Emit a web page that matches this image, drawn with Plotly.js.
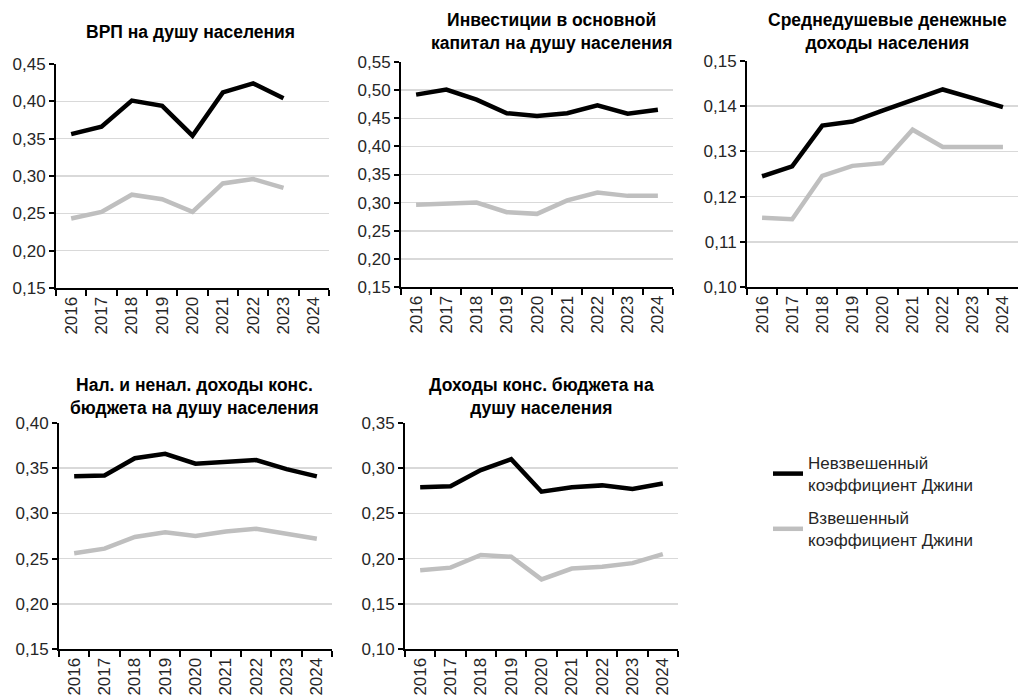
<!DOCTYPE html>
<html>
<head>
<meta charset="utf-8">
<script src="https://cdn.plot.ly/plotly-3.0.1.min.js"></script>
<style>
  html, body { margin: 0; padding: 0; background: #fff; }
  #chart { width: 1019px; height: 695px; }
</style>
</head>
<body>
<div id="chart"></div>
<script>
// ---- Data ----
const years = ['2016','2017','2018','2019','2020','2021','2022','2023','2024'];

const seriesNames = ['Невзвешенный<br>коэффициент Джини', 'Взвешенный<br>коэффициент Джини'];

const panelTitles = [
  'ВРП на душу населения',
  'Инвестиции в основной<br>капитал на душу населения',
  'Среднедушевые денежные<br>доходы населения',
  'Нал. и ненал. доходы конс.<br>бюджета на душу населения',
  'Доходы конс. бюджета на<br>душу населения'
];

// ВРП на душу населения
const grpUnweighted = [0.356, 0.366, 0.401, 0.394, 0.354, 0.412, 0.424, 0.404, null];
const grpWeighted   = [0.243, 0.252, 0.275, 0.269, 0.252, 0.290, 0.296, 0.284, null];

// Инвестиции в основной капитал на душу населения
const invUnweighted = [0.492, 0.501, 0.483, 0.459, 0.454, 0.459, 0.473, 0.458, 0.465];
const invWeighted   = [0.296, 0.298, 0.300, 0.283, 0.280, 0.304, 0.318, 0.312, 0.312];

// Среднедушевые денежные доходы населения
const incUnweighted = [0.1245, 0.1267, 0.1357, 0.1366, 0.1390, 0.1414, 0.1437, 0.1418, 0.1398];
const incWeighted   = [0.1153, 0.1150, 0.1246, 0.1268, 0.1274, 0.1348, 0.1310, 0.1310, 0.1310];

// Нал. и ненал. доходы конс. бюджета на душу населения
const taxUnweighted = [0.341, 0.342, 0.361, 0.366, 0.355, 0.357, 0.359, 0.349, 0.341];
const taxWeighted   = [0.256, 0.261, 0.274, 0.279, 0.275, 0.280, 0.283, 0.277, 0.272];

// Доходы конс. бюджета на душу населения
const budUnweighted = [0.279, 0.280, 0.298, 0.310, 0.274, 0.279, 0.281, 0.277, 0.283];
const budWeighted   = [0.187, 0.190, 0.204, 0.202, 0.177, 0.189, 0.191, 0.195, 0.205];

const yRanges = [[0.15, 0.45], [0.15, 0.55], [0.10, 0.15], [0.15, 0.40], [0.10, 0.35]];
const yDticks = [0.05, 0.05, 0.01, 0.05, 0.05];

// ---- Layout geometry (pixels in 1019x695 page) ----
const W = 1019, H = 695;
const boxes = [
  {x0: 56,  x1: 329,  y0: 64,  y1: 288, tx: 190, ty: 32},
  {x0: 401, x1: 673,  y0: 62,  y1: 287, tx: 551, ty: 32},
  {x0: 747, x1: 1018, y0: 61,  y1: 287, tx: 887, ty: 32},
  {x0: 59,  x1: 332,  y0: 423, y1: 649, tx: 194, ty: 396},
  {x0: 405, x1: 678,  y0: 423, y1: 649, tx: 541, ty: 396}
];

const dataPairs = [
  [grpUnweighted, grpWeighted],
  [invUnweighted, invWeighted],
  [incUnweighted, incWeighted],
  [taxUnweighted, taxWeighted],
  [budUnweighted, budWeighted]
];

const colors = ['#000000', '#bfbfbf'];
const FONT = '"Liberation Sans", Arial, Helvetica, sans-serif';

const traces = [];
const layout = {
  width: W, height: H,
  margin: {l: 0, r: 0, t: 0, b: 0},
  paper_bgcolor: '#ffffff',
  plot_bgcolor: '#ffffff',
  separators: ', ',
  font: {family: FONT, size: 17, color: '#262626'},
  showlegend: true,
  legend: {
    x: 768 / W, y: 1 - 445 / H, xanchor: 'left', yanchor: 'top',
    font: {family: FONT, size: 17, color: '#262626'},
    tracegroupgap: 8,
    itemwidth: 30,
    bgcolor: 'rgba(0,0,0,0)'
  },
  annotations: []
};

boxes.forEach((b, i) => {
  const n = i + 1;
  const xa = 'x' + (n === 1 ? '' : n);
  const ya = 'y' + (n === 1 ? '' : n);
  dataPairs[i].forEach((vals, k) => {
    traces.push({
      type: 'scatter', mode: 'lines',
      x: years, y: vals,
      xaxis: xa, yaxis: ya,
      name: seriesNames[k],
      legendgroup: 'g' + k,
      showlegend: i === 0,
      line: {color: colors[k], width: 4.5},
      connectgaps: false,
      hoverinfo: 'x+y'
    });
  });
  layout['xaxis' + (n === 1 ? '' : n)] = {
    domain: [b.x0 / W, b.x1 / W],
    anchor: ya,
    type: 'category',
    range: [-0.5, 8.5],
    tickangle: -90,
    tickson: 'boundaries',
    ticks: 'outside', ticklen: 6, tickwidth: 2, tickcolor: '#000',
    showline: true, linecolor: '#000', linewidth: 2,
    showgrid: false, zeroline: false,
    tickfont: {family: FONT, size: 17, color: '#262626'},
    fixedrange: true
  };
  layout['yaxis' + (n === 1 ? '' : n)] = {
    domain: [1 - b.y1 / H, 1 - b.y0 / H],
    anchor: xa,
    range: yRanges[i],
    dtick: yDticks[i],
    tick0: 0,
    tickformat: '.2f',
    ticks: 'outside', ticklen: 5, tickwidth: 2, tickcolor: '#000',
    showline: true, linecolor: '#000', linewidth: 2,
    showgrid: true, gridcolor: '#d9d9d9', gridwidth: 1.5,
    zeroline: false,
    tickfont: {family: FONT, size: 17, color: '#262626'},
    fixedrange: true
  };
  layout.annotations.push({
    text: '<b>' + panelTitles[i] + '</b>',
    xref: 'paper', yref: 'paper',
    x: b.tx / W, y: 1 - b.ty / H,
    xanchor: 'center', yanchor: 'middle',
    showarrow: false,
    font: {family: FONT, size: 17.5, color: '#000'},
    align: 'center'
  });
});

Plotly.newPlot('chart', traces, layout, {displayModeBar: false, staticPlot: true});
</script>
</body>
</html>
